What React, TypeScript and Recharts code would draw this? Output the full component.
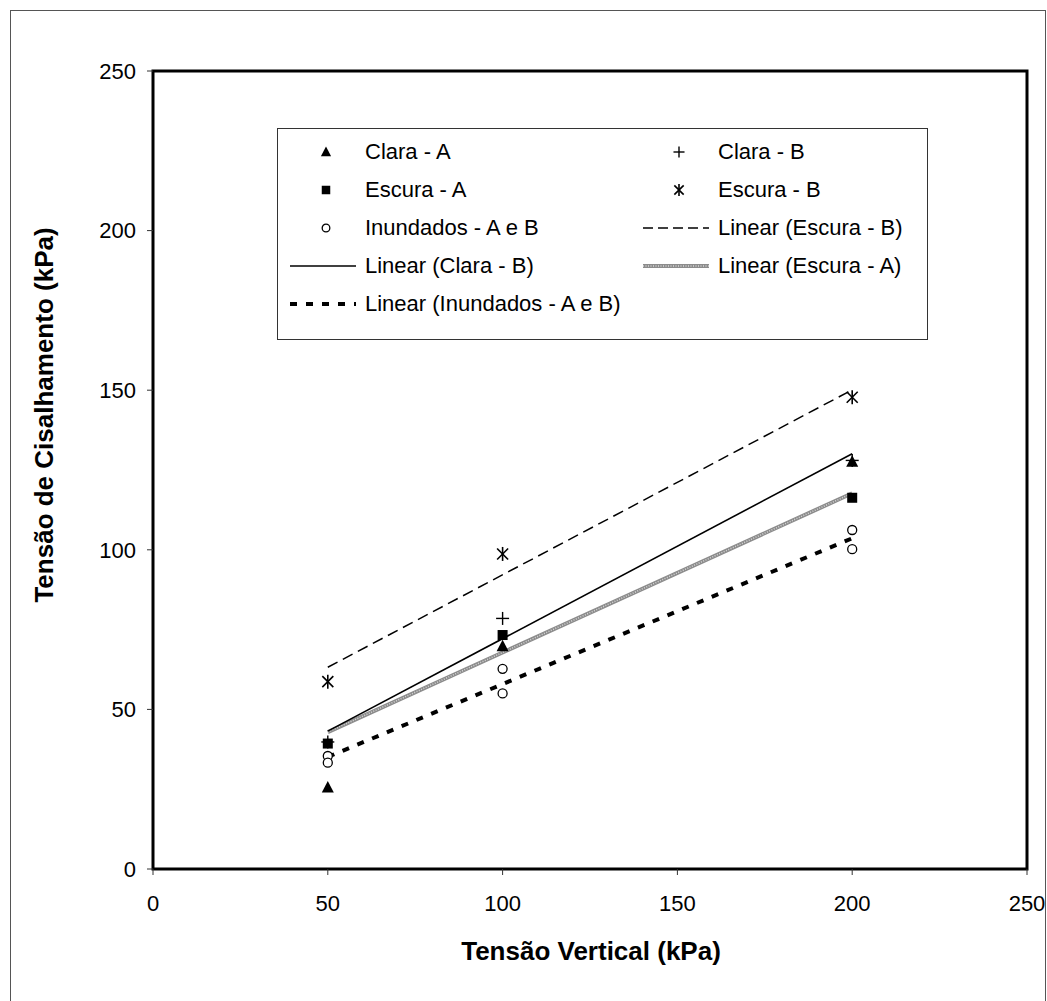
import React from "react";
import { ComposedChart, XAxis, YAxis, Scatter, Line, ReferenceArea } from "recharts";

// axis ticks
const xTicks = [0, 50, 100, 150, 200, 250];
const yTicks = [0, 50, 100, 150, 200, 250];

// measured points (kPa)
const claraA = [
  { x: 50, y: 25.5 },
  { x: 100, y: 69.8 },
  { x: 200, y: 127.6 },
];
const claraB = [
  { x: 50, y: 39.8 },
  { x: 100, y: 78.5 },
  { x: 200, y: 128 },
];
const escuraA = [
  { x: 50, y: 39.3 },
  { x: 100, y: 73.3 },
  { x: 200, y: 116.3 },
];
const escuraB = [
  { x: 50, y: 58.7 },
  { x: 100, y: 98.7 },
  { x: 200, y: 147.8 },
];
const inundados = [
  { x: 50, y: 35.4 },
  { x: 50, y: 33.3 },
  { x: 100, y: 62.7 },
  { x: 100, y: 55.0 },
  { x: 200, y: 106.2 },
  { x: 200, y: 100.2 },
];

// trend lines (end points)
const trendEscuraB = [
  { x: 50, y: 63.2 },
  { x: 200, y: 150.1 },
];
const trendClaraB = [
  { x: 50, y: 43.2 },
  { x: 200, y: 130.1 },
];
const trendEscuraA = [
  { x: 50, y: 42.9 },
  { x: 200, y: 117.7 },
];
const trendInundados = [
  { x: 50, y: 35.1 },
  { x: 200, y: 103.6 },
];

const FONT = "'Liberation Sans', Arial, sans-serif";

type Kind = "triangle" | "square" | "circle" | "plus" | "asterisk";

const Marker = ({ kind, cx, cy, s = 1 }: { kind: Kind; cx: number; cy: number; s?: number }) => {
  if (kind === "triangle") {
    return (
      <polygon
        points={`${cx},${cy - 6.5 * s} ${cx + 6 * s},${cy + 5 * s} ${cx - 6 * s},${cy + 5 * s}`}
        fill="#000"
      />
    );
  }
  if (kind === "square") {
    return <rect x={cx - 5 * s} y={cy - 5 * s} width={10 * s} height={10 * s} fill="#000" />;
  }
  if (kind === "circle") {
    return <circle cx={cx} cy={cy} r={4.5 * s} fill="#fff" stroke="#000" strokeWidth={1.3} />;
  }
  if (kind === "plus") {
    return (
      <g stroke="#000" strokeWidth={1.4}>
        <line x1={cx - 6.5 * s} y1={cy} x2={cx + 6.5 * s} y2={cy} />
        <line x1={cx} y1={cy - 6.5 * s} x2={cx} y2={cy + 6.5 * s} />
      </g>
    );
  }
  return (
    <g stroke="#000" strokeWidth={1.6}>
      <line x1={cx - 5.5 * s} y1={cy - 5.5 * s} x2={cx + 5.5 * s} y2={cy + 5.5 * s} />
      <line x1={cx - 5.5 * s} y1={cy + 5.5 * s} x2={cx + 5.5 * s} y2={cy - 5.5 * s} />
      <line x1={cx} y1={cy - 7 * s} x2={cx} y2={cy + 7 * s} />
    </g>
  );
};

const shapeOf = (kind: Kind) => (p: any) => <Marker kind={kind} cx={p.cx} cy={p.cy} />;

type LegendItem = {
  label: string;
  col: number;
  row: number;
  kind?: Kind;
  line?: { stroke: string; width: number; dash?: string; hatch?: boolean };
};

const legendItems: LegendItem[] = [
  { label: "Clara - A", col: 0, row: 0, kind: "triangle" },
  { label: "Clara - B", col: 1, row: 0, kind: "plus" },
  { label: "Escura - A", col: 0, row: 1, kind: "square" },
  { label: "Escura - B", col: 1, row: 1, kind: "asterisk" },
  { label: "Inundados - A e B", col: 0, row: 2, kind: "circle" },
  { label: "Linear (Escura - B)", col: 1, row: 2, line: { stroke: "#000", width: 1.5, dash: "10 5" } },
  { label: "Linear (Clara - B)", col: 0, row: 3, line: { stroke: "#000", width: 1.5 } },
  { label: "Linear (Escura - A)", col: 1, row: 3, line: { stroke: "#8c8c8c", width: 4, hatch: true } },
  { label: "Linear (Inundados - A e B)", col: 0, row: 4, line: { stroke: "#000", width: 4, dash: "7 9" } },
];

const ChartLegend = () => (
  <div
    style={{
      position: "absolute",
      left: 277,
      top: 128,
      width: 651,
      height: 212,
      border: "1px solid #333",
      boxSizing: "border-box",
      background: "#fff",
    }}
  >
    {legendItems.map((it) => {
      const colX = it.col === 0 ? 0 : 353;
      const rowY = 23 + it.row * 38;
      return (
        <div key={it.label}>
          <svg
            style={{ position: "absolute", left: colX + 12, top: rowY - 10 }}
            width={68}
            height={20}
          >
            {it.kind && <Marker kind={it.kind} cx={36} cy={10} s={0.85} />}
            {it.line && (
              <line
                x1={0}
                y1={10}
                x2={66}
                y2={10}
                stroke={it.line.stroke}
                strokeWidth={it.line.width}
                strokeDasharray={it.line.dash}
              />
            )}
            {it.line && it.line.hatch && (
              <line x1={0} y1={10} x2={66} y2={10} stroke="#d6d6d6" strokeWidth={1.5} strokeDasharray="1 1.5" />
            )}
          </svg>
          <span
            style={{
              position: "absolute",
              left: colX + 87,
              top: rowY - 13,
              fontSize: 22,
              lineHeight: "26px",
              whiteSpace: "nowrap",
              color: "#000",
            }}
          >
            {it.label}
          </span>
        </div>
      );
    })}
  </div>
);

export default function App() {
  return (
    <div
      style={{
        position: "absolute",
        left: 0,
        top: 0,
        width: 1047,
        height: 1001,
        background: "#fff",
        fontFamily: FONT,
        overflow: "hidden",
      }}
    >
      <div
        style={{
          position: "absolute",
          left: 10,
          top: 10,
          width: 1036,
          height: 1000,
          border: "1px solid #555",
          boxSizing: "border-box",
        }}
      />
      <ComposedChart
        width={1047}
        height={1001}
        margin={{ top: 71, right: 20, bottom: 0, left: 0 }}
        style={{ position: "absolute", left: 0, top: 0 }}
      >
        <XAxis
          type="number"
          dataKey="x"
          domain={[0, 250]}
          ticks={xTicks}
          height={132}
          axisLine={false}
          tickLine={{ stroke: "#333" }}
          tickSize={6}
          tickMargin={20}
          tick={{ fill: "#000", fontSize: 22, fontFamily: FONT }}
        />
        <YAxis
          type="number"
          dataKey="y"
          domain={[0, 250]}
          ticks={yTicks}
          width={153}
          axisLine={false}
          tickLine={{ stroke: "#333" }}
          tickSize={6}
          tickMargin={11}
          tick={{ fill: "#000", fontSize: 22, fontFamily: FONT }}
        />
        <ReferenceArea
          x1={0}
          x2={250}
          y1={0}
          y2={250}
          fill="none"
          stroke="#000"
          strokeWidth={3}
        />
        <Line data={trendEscuraA} dataKey="y" type="linear" stroke="#8c8c8c" strokeWidth={4} dot={false} isAnimationActive={false} />
        <Line data={trendEscuraA} dataKey="y" type="linear" stroke="#d6d6d6" strokeWidth={1.5} strokeDasharray="1 1.5" dot={false} isAnimationActive={false} />
        <Line data={trendEscuraB} dataKey="y" type="linear" stroke="#000" strokeWidth={1.5} strokeDasharray="11 6" dot={false} isAnimationActive={false} />
        <Line data={trendClaraB} dataKey="y" type="linear" stroke="#000" strokeWidth={1.6} dot={false} isAnimationActive={false} />
        <Line data={trendInundados} dataKey="y" type="linear" stroke="#000" strokeWidth={4} strokeDasharray="7 9" dot={false} isAnimationActive={false} />
        <Scatter data={claraB} dataKey="y" shape={shapeOf("plus")} isAnimationActive={false} />
        <Scatter data={claraA} dataKey="y" shape={shapeOf("triangle")} isAnimationActive={false} />
        <Scatter data={escuraA} dataKey="y" shape={shapeOf("square")} isAnimationActive={false} />
        <Scatter data={escuraB} dataKey="y" shape={shapeOf("asterisk")} isAnimationActive={false} />
        <Scatter data={inundados} dataKey="y" shape={shapeOf("circle")} isAnimationActive={false} />
      </ComposedChart>
      <ChartLegend />
      <div
        style={{
          position: "absolute",
          left: 44,
          top: 415,
          transform: "translate(-50%, -50%) rotate(-90deg)",
          fontSize: 26,
          fontWeight: "bold",
          whiteSpace: "nowrap",
          color: "#000",
        }}
      >
        Tensão de Cisalhamento (kPa)
      </div>
      <div
        style={{
          position: "absolute",
          left: 591,
          top: 951,
          transform: "translate(-50%, -50%)",
          fontSize: 26,
          fontWeight: "bold",
          whiteSpace: "nowrap",
          color: "#000",
        }}
      >
        Tensão Vertical (kPa)
      </div>
    </div>
  );
}
